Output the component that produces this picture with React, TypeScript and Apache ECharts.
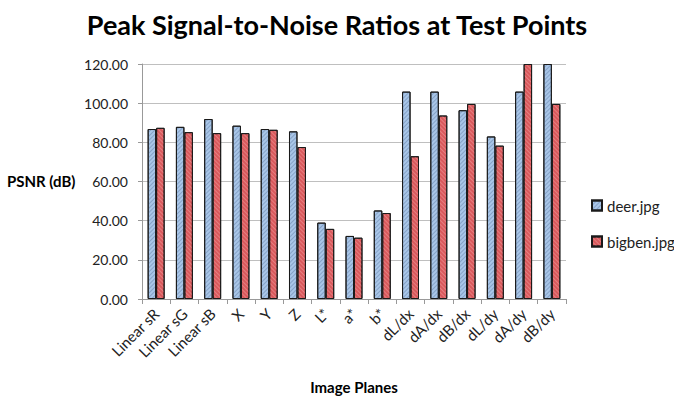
import React, { useEffect, useRef } from "react";
import * as echarts from "echarts";

const categories = ["Linear sR", "Linear sG", "Linear sB", "X", "Y", "Z", "L*", "a*", "b*", "dL/dx", "dA/dx", "dB/dx", "dL/dy", "dA/dy", "dB/dy"];
const deer = [86.8, 87.9, 91.9, 88.5, 86.8, 85.6, 39.0, 32.2, 45.2, 105.9, 105.9, 96.4, 83.0, 105.9, 120.0];
const bigben = [87.4, 85.2, 84.7, 84.7, 86.4, 77.6, 35.8, 31.3, 43.9, 72.9, 93.7, 99.6, 78.3, 120.0, 99.6];
const yTicks = { min: 0, max: 120, interval: 20 };

const FONT = "Lato, 'Open Sans', sans-serif";

export default function App() {
  const ref = useRef<HTMLDivElement>(null);
  useEffect(() => {
    if (!ref.current) return;
    const chart = echarts.init(ref.current, null, { renderer: "svg" });
    chart.setOption({
      animation: false,
      backgroundColor: "#ffffff",
      textStyle: { fontFamily: FONT },
      title: {
        text: "Peak Signal-to-Noise Ratios at Test Points",
        left: "center",
        top: 6,
        textStyle: { fontFamily: FONT, fontSize: 27, fontWeight: "bold", color: "#000" },
      },
      legend: {
        orient: "vertical",
        left: 586,
        top: 193,
        itemWidth: 10,
        itemHeight: 10,
        itemGap: 21,
        icon: "rect",
        textStyle: { fontFamily: FONT, fontSize: 15, color: "#222" },
        data: ["deer.jpg", "bigben.jpg"],
      },
      graphic: [
        {
          type: "text",
          left: 7,
          top: 173,
          style: { text: "PSNR (dB)", font: "bold 15px Lato, 'Open Sans', sans-serif", fill: "#000" },
        },
      ],
      grid: { left: 142, right: 108, top: 64, bottom: 101, containLabel: false },
      xAxis: {
        type: "category",
        data: categories,
        name: "Image Planes",
        nameLocation: "middle",
        nameGap: 80,
        nameTextStyle: { fontFamily: FONT, fontSize: 15, fontWeight: "bold", color: "#000" },
        axisLine: { lineStyle: { color: "#999" } },
        axisTick: { show: true, length: 5, lineStyle: { color: "#999" } },
        axisLabel: { rotate: 45, fontSize: 15, color: "#222", margin: 12, fontFamily: FONT },
      },
      yAxis: {
        type: "value",
        min: yTicks.min,
        max: yTicks.max,
        interval: yTicks.interval,
        axisLine: { show: true, lineStyle: { color: "#999" } },
        axisTick: { show: true, inside: false, length: 4, lineStyle: { color: "#999" } },
        axisLabel: { formatter: (v: number) => v.toFixed(2), fontSize: 14, color: "#222", margin: 14, fontFamily: FONT },
        splitLine: { lineStyle: { color: "#bfbfbf" } },
      },
      series: [
        {
          name: "deer.jpg",
          type: "bar",
          data: deer,
          barGap: "0%",
          barCategoryGap: "40%",
          itemStyle: {
            color: "#a9c6e8",
            borderColor: "#1a1a1a",
            borderWidth: 1,
            decal: { symbol: "rect", dashArrayX: [1, 0], dashArrayY: [1, 2], rotation: -Math.PI / 4, color: "rgba(90,120,160,0.45)" },
          },
        },
        {
          name: "bigben.jpg",
          type: "bar",
          data: bigben,
          barGap: "0%",
          barCategoryGap: "40%",
          itemStyle: {
            color: "#d9595c",
            borderColor: "#1a1a1a",
            borderWidth: 1,
            decal: { symbol: "rect", dashArrayX: [1, 0], dashArrayY: [1, 2], rotation: Math.PI / 4, color: "rgba(245,170,170,0.45)" },
          },
        },
      ],
    });
    return () => chart.dispose();
  }, []);
  return <div ref={ref} style={{ width: 674, height: 400, position: "absolute", left: 0, top: 0 }} />;
}
